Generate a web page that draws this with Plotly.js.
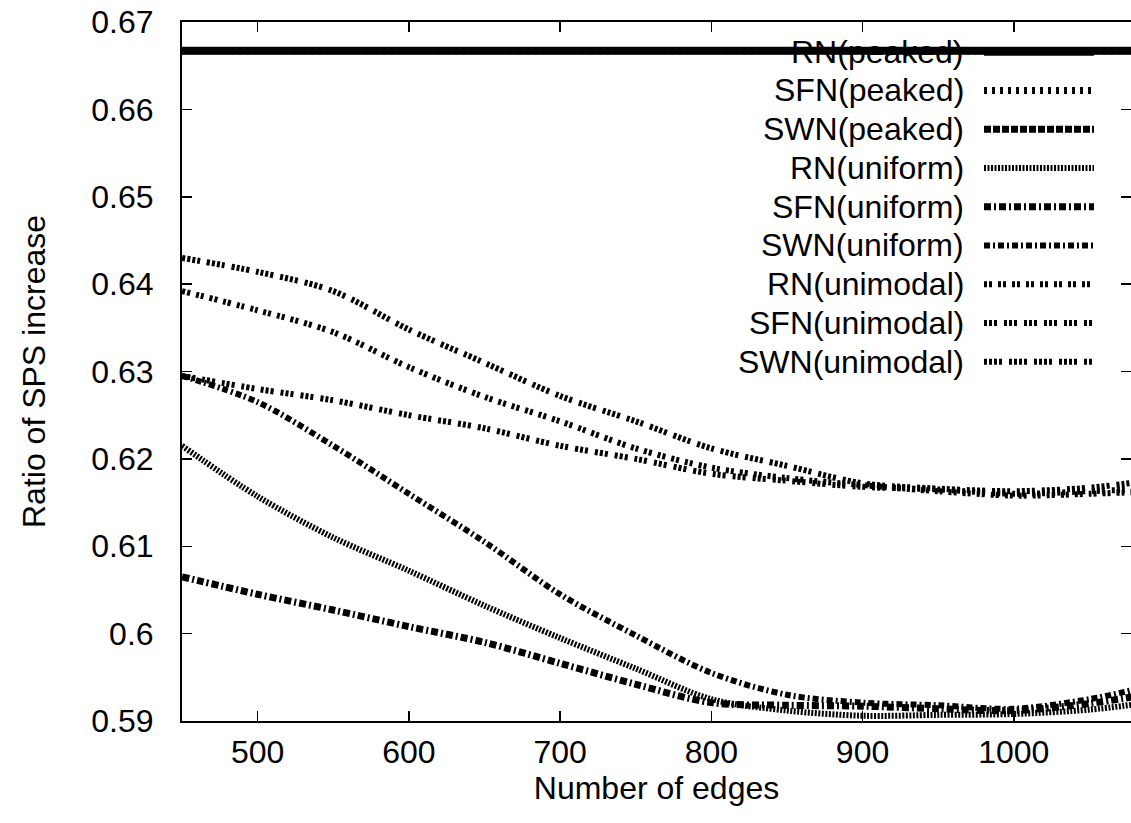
<!DOCTYPE html>
<html>
<head>
<meta charset="utf-8">
<script src="https://cdn.plot.ly/plotly-3.0.1.min.js"></script>
<style>
html,body{margin:0;padding:0;background:#fff;}
#chart{width:1131px;height:823px;}
</style>
</head>
<body>
<div id="chart"></div>
<script>
// ---- data ----
const edges = [450, 500, 550, 600, 650, 700, 750, 800, 850, 900, 950, 1000, 1050, 1080];

const seriesNames = [
  "RN(peaked)", "SFN(peaked)", "SWN(peaked)",
  "RN(uniform)", "SFN(uniform)", "SWN(uniform)",
  "RN(unimodal)", "SFN(unimodal)", "SWN(unimodal)"
];

const rnPeaked  = [0.6667, 0.6667, 0.6667, 0.6667, 0.6667, 0.6667, 0.6667, 0.6667, 0.6667, 0.6667, 0.6667, 0.6667, 0.6667, 0.6667];
const sfnPeaked = [0.6667, 0.6667, 0.6667, 0.6667, 0.6667, 0.6667, 0.6667, 0.6667, 0.6667, 0.6667, 0.6667, 0.6667, 0.6667, 0.6667];
const swnPeaked = [0.6667, 0.6667, 0.6667, 0.6667, 0.6667, 0.6667, 0.6667, 0.6667, 0.6667, 0.6667, 0.6667, 0.6667, 0.6667, 0.6667];

const rnUniform  = [0.6215, 0.6157, 0.6110, 0.6072, 0.6032, 0.5995, 0.5960, 0.5925, 0.5912, 0.5906, 0.5907, 0.5908, 0.5913, 0.5919];
const sfnUniform = [0.6065, 0.6045, 0.6027, 0.6008, 0.5990, 0.5966, 0.5942, 0.5921, 0.5918, 0.5917, 0.5914, 0.5912, 0.5920, 0.5928];
const swnUniform = [0.6295, 0.6265, 0.6215, 0.6160, 0.6105, 0.6045, 0.5998, 0.5955, 0.5930, 0.5921, 0.5918, 0.5914, 0.5925, 0.5936];

const rnUnimodal  = [0.6392, 0.6370, 0.6345, 0.6305, 0.6271, 0.6243, 0.6212, 0.6190, 0.6178, 0.6170, 0.6163, 0.6158, 0.6160, 0.6162];
const sfnUnimodal = [0.6295, 0.6280, 0.6267, 0.6250, 0.6235, 0.6215, 0.6200, 0.6183, 0.6175, 0.6168, 0.6165, 0.6160, 0.6163, 0.6165];
const swnUnimodal = [0.6430, 0.6414, 0.6392, 0.6348, 0.6310, 0.6272, 0.6243, 0.6212, 0.6192, 0.6172, 0.6166, 0.6163, 0.6167, 0.6173];

const xTickVals = [500, 600, 700, 800, 900, 1000];
const xTickText = ["500", "600", "700", "800", "900", "1000"];
const yTickVals = [0.59, 0.60, 0.61, 0.62, 0.63, 0.64, 0.65, 0.66, 0.67];
const yTickText = ["0.59", "0.6", "0.61", "0.62", "0.63", "0.64", "0.65", "0.66", "0.67"];

const xTitle = "Number of edges";
const yTitle = "Ratio of SPS increase";

// ---- styles ----
const seriesValues = [rnPeaked, sfnPeaked, swnPeaked, rnUniform, sfnUniform, swnUniform, rnUnimodal, sfnUnimodal, swnUnimodal];
const styles = [
  {width: 8, dash: "solid"},
  {width: 7, dash: "3px,5px"},
  {width: 7, dash: "7px,2px"},
  {width: 6, dash: "2px,1.5px"},
  {width: 7, dash: "7px,3px,2px,3px"},
  {width: 6, dash: "6px,3px,2px,3px"},
  {width: 6, dash: "3px,2px,3px,6px"},
  {width: 6, dash: "3px,2px,3px,2px,3px,7px"},
  {width: 6, dash: "3px,2px,3px,2px,3px,2px,3px,7px"}
];
const drawOrder = [1, 2, 0, 3, 4, 5, 6, 7, 8];

const FONT = "Liberation Sans, Arial, Helvetica, sans-serif";
const FS = 32;

const traces = drawOrder.map(i => ({
  x: edges,
  y: seriesValues[i],
  name: seriesNames[i],
  type: "scatter",
  mode: "lines",
  line: {color: "#000", width: styles[i].width, dash: styles[i].dash, shape: "spline", smoothing: 0.9},
  showlegend: false,
  hoverinfo: "skip"
}));

// ---- custom gnuplot-style key (text left, sample right) ----
const W = 1131, H = 823, ML = 182, MR = 0, MT = 22, MB = 102;
const pw = W - ML - MR, ph = H - MT - MB;
const px2paperX = p => (p - ML) / pw;
const py2paperY = p => (H - MB - p) / ph;
const keyTop = 51.7, keyStep = 38.75, keyTextRight = 966, keyLineL = 984, keyLineR = 1094;

const annotations = [];
const shapes = [];
seriesNames.forEach((nm, i) => {
  const yy = py2paperY(keyTop + i * keyStep);
  annotations.push({
    xref: "paper", yref: "paper", x: px2paperX(keyTextRight), y: yy,
    xanchor: "right", yanchor: "middle", text: nm, showarrow: false,
    font: {family: FONT, size: FS, color: "#000"}
  });
  shapes.push({
    type: "line", xref: "paper", yref: "paper",
    x0: px2paperX(keyLineL), x1: px2paperX(keyLineR), y0: yy, y1: yy,
    line: {color: "#000", width: styles[i].width, dash: styles[i].dash}
  });
});

const layout = {
  width: W, height: H,
  margin: {l: ML, r: MR, t: MT, b: MB, pad: 0},
  paper_bgcolor: "#fff", plot_bgcolor: "#fff",
  font: {family: FONT, size: FS, color: "#000"},
  showlegend: false,
  xaxis: {
    range: [450, 1077.5],
    tickvals: xTickVals, ticktext: xTickText,
    ticks: "inside", ticklen: 10, tickwidth: 1.5, tickcolor: "#000",
    showline: true, linecolor: "#000", linewidth: 2, mirror: "ticks",
    showgrid: false, zeroline: false,
    ticklabelstandoff: 2,
    tickfont: {family: FONT, size: FS, color: "#000"},
    title: {text: xTitle, font: {family: FONT, size: FS, color: "#000"}, standoff: 5}
  },
  yaxis: {
    range: [0.59, 0.67],
    tickvals: yTickVals, ticktext: yTickText,
    ticks: "inside", ticklen: 10, tickwidth: 1.5, tickcolor: "#000",
    showline: true, linecolor: "#000", linewidth: 2, mirror: "ticks",
    showgrid: false, zeroline: false,
    ticklabelstandoff: 20,
    tickfont: {family: FONT, size: FS, color: "#000"},
    title: {text: yTitle, font: {family: FONT, size: FS, color: "#000"}, standoff: 36}
  },
  annotations: annotations,
  shapes: shapes
};

Plotly.newPlot("chart", traces, layout, {staticPlot: true, displayModeBar: false});
</script>
</body>
</html>
